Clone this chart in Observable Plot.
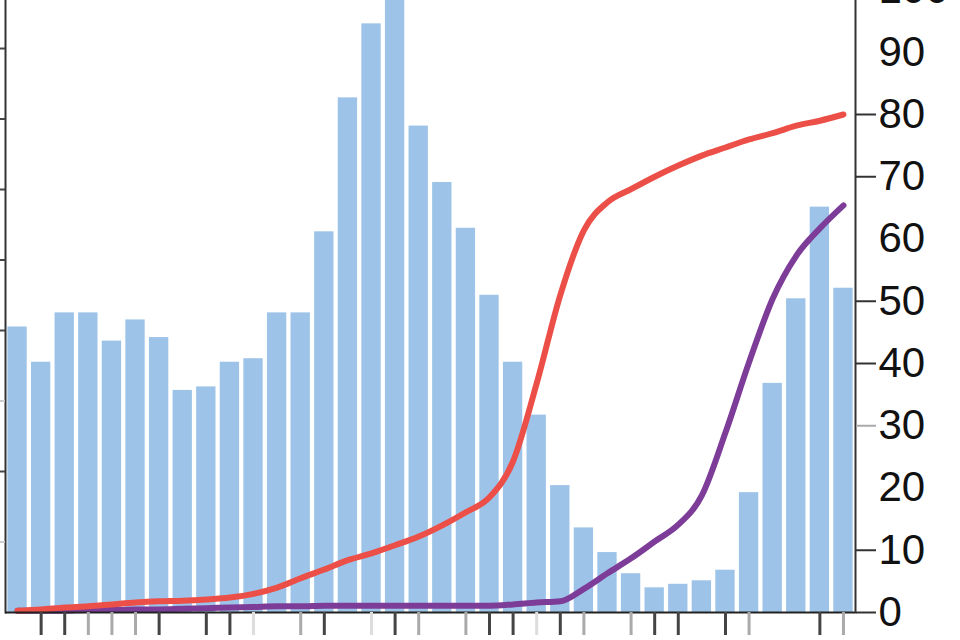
<!DOCTYPE html>
<html>
<head>
<meta charset="utf-8">
<script src="https://cdn.jsdelivr.net/npm/d3@7"></script>
<script src="https://cdn.jsdelivr.net/npm/@observablehq/plot@0.6"></script>
<style>
  html, body { margin: 0; padding: 0; background: #fff; overflow: hidden; }
  #chart svg { display: block; }
</style>
</head>
<body>
<div id="chart"></div>
<script>
// Periods (x categories; their labels are cut off in the reference)
const periods = ["P1","P2","P3","P4","P5","P6","P7","P8","P9","P10","P11","P12",
  "P13","P14","P15","P16","P17","P18","P19","P20","P21","P22","P23","P24",
  "P25","P26","P27","P28","P29","P30","P31","P32","P33","P34","P35","P36"];

// Bars (left axis, labels cut off)
const barCounts = [81, 71, 85, 85, 77, 83, 78, 63, 64, 71, 72, 85,
  85, 108, 146, 167, 178, 138, 122, 109, 90, 71, 56, 36,
  24, 17, 11, 7, 8, 9, 12, 34, 65, 89, 115, 92];

// Lines (right axis, 0–100)
const redSeries = [0.3, 0.5, 0.8, 1.0, 1.3, 1.6, 1.8, 1.9, 2.1, 2.4, 3.0, 4.0,
  5.5, 6.9, 8.4, 9.5, 10.8, 12.2, 14.0, 16.1, 18.5, 24.3, 36.8, 51.0,
  61.4, 65.9, 68.0, 70.0, 71.8, 73.4, 74.7, 76.0, 77.0, 78.2, 79.0, 80.0];
const purpleSeries = [0.3, 0.3, 0.3, 0.4, 0.4, 0.5, 0.5, 0.6, 0.7, 0.8, 0.9, 1.0,
  1.0, 1.1, 1.1, 1.1, 1.1, 1.1, 1.1, 1.1, 1.1, 1.3, 1.6, 1.8,
  3.8, 6.3, 8.7, 11.4, 14.1, 18.8, 28.9, 40.2, 50.4, 57.3, 61.7, 65.4];

// Axis ticks
const leftMax = 176.6;                 // left-axis value at the right axis' 100
const leftTicksDark = [40, 80, 100, 120, 140, 160];
const leftTicksLight = [20, 60];
const rightTicks = [0, 10, 20, 30, 40, 50, 60, 70, 80, 90, 100];
const rightTickMarksDark = [0, 10, 40, 50, 70, 80];
const rightTickMarksLight = [30];
const xTicksDark = ["P2","P3","P7","P9","P10","P14","P17","P21","P22","P24","P28","P29","P31","P35"];
const xTicksGray = ["P4","P5","P6","P13","P18","P20","P25","P27","P32","P36"];
const xTicksLight = ["P11","P16","P23"];

const table = periods.map((p, i) => ({
  period: p, count: barCounts[i], red: redSeries[i], purple: purpleSeries[i]
}));
const toRight = v => v / leftMax * 100;

const tickOnly = (o) => ({ fill: "none", label: null, ...o });

const chart = Plot.plot({
  width: 960,
  height: 640,
  marginLeft: 5,
  marginRight: 105,
  marginTop: 0,
  marginBottom: 28,
  style: { fontFamily: "'Liberation Sans', Arial, sans-serif", background: "#fff", overflow: "visible" },
  x: { domain: periods, type: "band", paddingInner: 0.18, paddingOuter: 0.1, round: false, axis: null },
  y: { domain: [0, 100], range: [612, -10.5], axis: null },
  marks: [
    Plot.barY(table, { x: "period", y: d => toRight(d.count), fill: "#9dc4e8" }),
    Plot.line(table, { x: "period", y: "purple", stroke: "#7d3c98", strokeWidth: 6, curve: "monotone-x" }),
    Plot.line(table, { x: "period", y: "red", stroke: "#eb4f48", strokeWidth: 6, curve: "monotone-x" }),
    Plot.frame({ anchor: "left", stroke: "#333", strokeWidth: 2 }),
    Plot.frame({ anchor: "right", stroke: "#333", strokeWidth: 2 }),
    Plot.ruleY([0], { stroke: "#222", strokeWidth: 2 }),
    Plot.axisY(leftTicksDark.map(toRight), tickOnly({ anchor: "left", tickSize: 5, stroke: "#444", strokeWidth: 2 })),
    Plot.axisY(leftTicksLight.map(toRight), tickOnly({ anchor: "left", tickSize: 5, stroke: "#ccc", strokeWidth: 2 })),
    Plot.axisY(rightTickMarksDark, tickOnly({ anchor: "right", tickSize: 20, stroke: "#333", strokeWidth: 2 })),
    Plot.axisY(rightTickMarksLight, tickOnly({ anchor: "right", tickSize: 20, stroke: "#aaa", strokeWidth: 2 })),
    Plot.axisY(rightTicks, { anchor: "right", tickSize: 0, tickPadding: 23, fontSize: 42, fill: "#111", label: null }),
    Plot.axisX(xTicksDark, tickOnly({ anchor: "bottom", tickSize: 23, stroke: "#444", strokeWidth: 3 })),
    Plot.axisX(xTicksGray, tickOnly({ anchor: "bottom", tickSize: 23, stroke: "#aaa", strokeWidth: 3 })),
    Plot.axisX(xTicksLight, tickOnly({ anchor: "bottom", tickSize: 23, stroke: "#ddd", strokeWidth: 3 }))
  ]
});
document.getElementById("chart").appendChild(chart);
</script>
</body>
</html>
